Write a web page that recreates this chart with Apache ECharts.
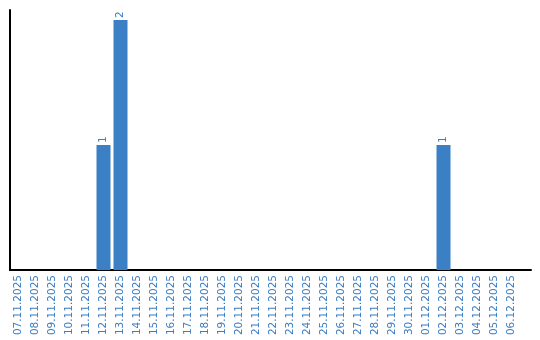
<!DOCTYPE html>
<html>
<head>
<meta charset="utf-8">
<script src="https://cdn.jsdelivr.net/npm/echarts@6/dist/echarts.min.js"></script>
<style>html,body{margin:0;padding:0;background:#fff}#c{width:540px;height:340px}</style>
</head>
<body>
<div id="c"></div>
<script>
var categories = ["07.11.2025","08.11.2025","09.11.2025","10.11.2025","11.11.2025","12.11.2025","13.11.2025","14.11.2025","15.11.2025","16.11.2025","17.11.2025","18.11.2025","19.11.2025","20.11.2025","21.11.2025","22.11.2025","23.11.2025","24.11.2025","25.11.2025","26.11.2025","27.11.2025","28.11.2025","29.11.2025","30.11.2025","01.12.2025","02.12.2025","03.12.2025","04.12.2025","05.12.2025","06.12.2025"];
var values = [null,null,null,null,null,1,2,null,null,null,null,null,null,null,null,null,null,null,null,null,null,null,null,null,null,1,null,null,null,null];

var chart = echarts.init(document.getElementById('c'), null, {renderer:'canvas'});
chart.setOption({
  animation: false,
  grid: [
    {left: 10, right: 20, top: 10, bottom: 70, containLabel: false},
    {left: 10, right: 9, top: 10, bottom: 70, containLabel: false}
  ],
  xAxis: [{
    type: 'category',
    gridIndex: 0,
    data: categories,
    axisLine: {show: true, lineStyle: {color: '#000', width: 2}},
    axisTick: {show: false},
    axisLabel: {rotate: 90, interval: 0, color: '#3a7dc2', fontFamily: 'DejaVu Sans', fontSize: 10.5, margin: 5}
  }, {
    type: 'value',
    gridIndex: 1,
    min: 0, max: 1,
    axisLine: {show: true, lineStyle: {color: '#000', width: 2}},
    axisTick: {show: false},
    axisLabel: {show: false},
    splitLine: {show: false}
  }],
  yAxis: [{
    type: 'value',
    gridIndex: 0,
    min: 0,
    max: 2.08,
    axisLine: {show: true, lineStyle: {color: '#000', width: 2}},
    axisTick: {show: false},
    axisLabel: {show: false},
    splitLine: {show: false}
  }, {
    type: 'value',
    gridIndex: 1,
    min: 0, max: 1,
    axisLine: {show: false},
    axisTick: {show: false},
    axisLabel: {show: false},
    splitLine: {show: false}
  }],
  series: [{
    type: 'bar',
    xAxisIndex: 0,
    yAxisIndex: 0,
    data: values,
    barWidth: 14,
    itemStyle: {color: '#3b7fc4'},
    label: {
      show: true,
      position: 'top',
      rotate: 90,
      align: 'left',
      verticalAlign: 'middle',
      distance: 2,
      color: '#3a7dc2',
      fontFamily: 'DejaVu Sans',
      fontSize: 10.5
    }
  }]
});
</script>
</body>
</html>
